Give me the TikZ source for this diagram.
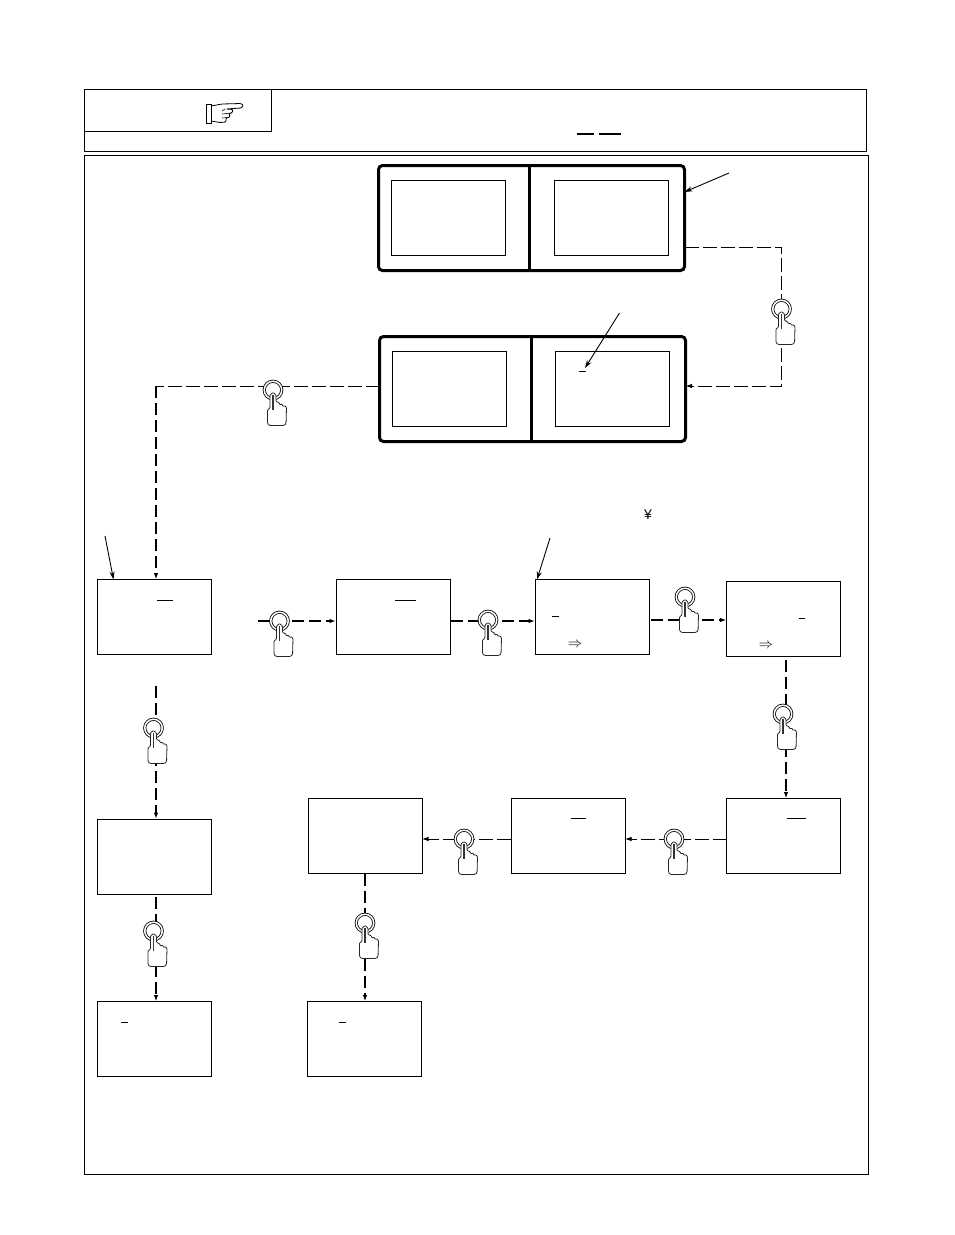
\documentclass[tikz,border=0pt]{standalone}
\usepackage{fontspec}
\setmainfont{Liberation Sans}
\usetikzlibrary{arrows.meta,backgrounds}
\tikzset{
  x=1pt,y=-1pt,
  frame/.style={draw,line width=.85pt},
  screen/.style={draw,line width=.85pt,rectangle,minimum width=114pt,minimum height=75pt,inner sep=0pt,outer sep=0pt},
  panel/.style={draw,line width=3pt,rectangle,rounded corners=4pt,minimum width=306pt,minimum height=105pt,inner sep=0pt,outer sep=0pt},
  btn/.style={circle,draw,line width=.8pt,fill=white,double=white,double distance=1.5pt,minimum size=17.5pt,inner sep=0pt,outer sep=0pt},
  tip/.style={-{Latex[length=6.5pt,width=4.5pt]}},
  thinflow/.style={line width=.9pt,dash pattern=on 14pt off 4pt},
  thickflow/.style={line width=2.2pt,dash pattern=on 12pt off 5pt},
  callout/.style={line width=.9pt,-{Stealth[length=8pt,width=5pt]}},
  mark line/.style={line width=.9pt},
  hand/.pic={
    \draw[line width=.8pt,fill=white,rounded corners=.8pt,draw=black!85]
      (-3,5) -- (-3,18) -- (-5.5,20) [rounded corners=3pt] -- (-5.5,35.5) -- (13,35.5) [rounded corners=.8pt]
      -- (13.5,17.5) -- (11.5,15.5) -- (10,16.5) -- (9,14) -- (7,15) -- (6,12.5) -- (3,11.5) -- (3,5) -- (0,2.5) -- cycle;
    \draw[line width=1.6pt,black!80] (0,5) -- (0,20);
  }
}
\begin{document}
\begin{tikzpicture}
\useasboundingbox (0,0) rectangle (954,1235);
% frames
\draw[frame] (84.5,89.5) rectangle (866,151);
\draw[frame] (84.5,89.5) rectangle (271,131);
\draw[frame] (84.5,155.5) rectangle (868,1174);
% pointing hand in the header
\draw[line width=.8pt,fill=white] (206.5,104.5) rectangle (211,123);
\draw[line width=.8pt,rounded corners=1pt] (211,106) -- (222,104) -- (241,103.5) -- (243.5,105.5) -- (241,108) -- (226,109) -- (233,109.5) -- (232,113) -- (229,113.5) -- (230,117) -- (226,118) -- (226,122) -- (220,122.5) -- (211,121);
\draw[line width=.6pt] (225,109) -- (222,111) (231,113) -- (222,114) (229,117.5) -- (222,118);
% header marks
\draw[mark line,line width=1.1pt] (577,134) -- (594,134) (599,134) -- (621,134);
% panels
\node[panel] (p1) at (531.5,218) {};
\node[panel] (p2) at (532.5,389) {};
\draw[line width=3pt] (529,165) -- (529,271);
\draw[line width=3pt] (531,336) -- (531,442);
\node[screen] (p1l) at (448,217.5) {};
\node[screen] (p1r) at (611,217.5) {};
\node[screen] (p2l) at (449,389) {};
\node[screen] (p2r) at (612,389) {};
% screens
\node[screen] (A) at (154.5,617) {};
\node[screen] (B) at (393,617) {};
\node[screen] (C) at (592,617) {};
\node[screen] (D) at (783.5,619) {};
\node[screen] (E) at (783.5,836) {};
\node[screen] (F) at (568,836) {};
\node[screen] (G) at (365,836) {};
\node[screen] (H) at (154.5,856.5) {};
\node[screen] (I) at (154.5,1039) {};
\node[screen] (J) at (364.5,1039) {};
% marks in the screens
\draw[mark line] (579,371) -- (586,371);
\draw[mark line] (157,600) -- (173,600);
\draw[mark line] (395,600) -- (416,600);
\draw[mark line] (552,616) -- (559,616);
\draw[mark line] (799,618) -- (805,618);
\draw[mark line] (787,818) -- (806,818);
\draw[mark line] (571,818) -- (586,818);
\draw[mark line] (121,1022) -- (128,1022);
\draw[mark line] (339,1022) -- (346,1022);
\node[inner sep=0pt,font=\fontsize{15}{17}\selectfont] (ar1) at (575,645) {$\Rightarrow$};
\node[inner sep=0pt,font=\fontsize{15}{17}\selectfont] (ar2) at (766,646) {$\Rightarrow$};
\node[inner sep=0pt,font=\fontsize{14}{16}\selectfont] (yen) at (648,514.5) {¥};
% buttons
\foreach \n/\x/\y in {b1/781.5/309,b2/273/390,b3/153.5/728,b4/153.5/931,b5/365/923,b6/279.5/621,b7/488/620,b8/685/597,b9/783/714,b10/674/839,b11/464/839}{
  \node[btn] (\n) at (\x,\y) {};
  \pic at (\n) {hand};
}
% free ends
\coordinate (c2) at (156,386);
\coordinate (s6) at (258,621);
\coordinate (s3) at (156,686);
% callouts
\coordinate (k1) at (729,173);
\coordinate (k2) at (619.5,313);
\coordinate (k3) at (105,536);
\coordinate (k4) at (550,538);
\coordinate (k5) at (585,368);
\draw[callout] (k1) -- ([yshift=26pt]p1.east);
\draw[callout] (k2) -- (k5);
\draw[callout] (k3) -- ([xshift=-41pt]A.north);
\draw[callout] (k4) -- ([xshift=-55pt]C.north);
% connectors
\begin{scope}[on background layer]
\draw[thinflow,tip] ([yshift=-29pt]p1.east) -| (b1.center) |- ([yshift=3pt]p2.east);
\draw[thinflow] ([yshift=3pt]p2.west) -- (c2);
\draw[thickflow,tip] (c2) -- ([xshift=1.5pt]A.north);
\draw[thickflow,tip] (s6) -- ([yshift=-4pt]B.west);
\draw[thickflow,tip] ([yshift=-4pt,xshift=1pt]B.east) -- ([yshift=-4pt]C.west);
\draw[thickflow,tip] ([yshift=-3pt,xshift=2pt]C.east) -- ([yshift=-1pt]D.west);
\draw[thickflow,tip] ([xshift=2.5pt,yshift=-3pt]D.south) -- ([xshift=2.5pt]E.north);
\draw[thinflow,tip] ([yshift=-3pt]E.west) -- ([yshift=-3pt]F.east);
\draw[thinflow,tip] ([yshift=-3pt]F.west) -- ([yshift=-3pt]G.east);
\draw[thickflow,tip] (s3) -- ([xshift=1.5pt]H.north);
\draw[thickflow,tip] ([xshift=1.5pt,yshift=-3pt]H.south) -- ([xshift=1.5pt]I.north);
\draw[thickflow,tip] (G.south) -- ([xshift=.5pt]J.north);
\end{scope}
\end{tikzpicture}
\end{document}
